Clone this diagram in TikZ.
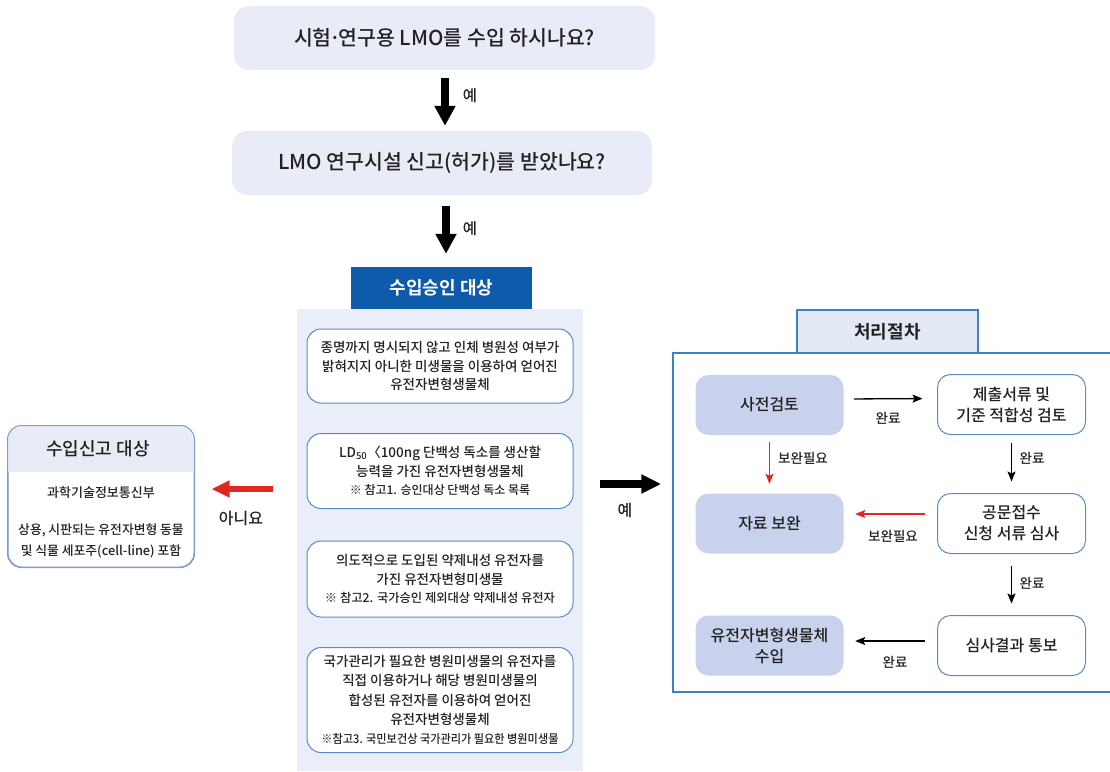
\documentclass[tikz,border=0pt]{standalone}
\usepackage{fontspec}
\setmainfont{Noto Sans CJK KR}[UprightFont={* Medium}, BoldFont={* Bold}]
\usetikzlibrary{arrows.meta}
\definecolor{qfill}{HTML}{E9ECF7}
\definecolor{hblue}{HTML}{0D5BAA}
\definecolor{panelbg}{HTML}{E9EEF8}
\definecolor{sbord}{HTML}{5B8BC6}
\definecolor{lav}{HTML}{C8D2EC}
\definecolor{pblue}{HTML}{3F7FC4}
\definecolor{hlight}{HTML}{E4E9F6}
\definecolor{lbord}{HTML}{7D9DCB}
\definecolor{arrred}{HTML}{E0281E}
\definecolor{txt}{HTML}{222222}
\newcommand\myfs[2]{\fontsize{#1}{#2}\selectfont}
\begin{document}
\begin{tikzpicture}[x=1pt,y=-1pt,
  question/.style={fill=qfill, rounded corners=15pt, inner sep=0pt, font=\myfs{20.5}{24}, text=txt},
  bigarrow/.style={line width=8.5pt, -{Triangle[width=20pt,length=20pt]}},
  redbig/.style={arrred, line width=6.5pt, -{Triangle[width=16pt,length=18pt]}},
  blackbig/.style={line width=8.5pt, -{Triangle[width=18pt,length=20pt]}},
  sub/.style={draw=sbord, line width=1pt, fill=white, rounded corners=14pt, inner sep=0pt, minimum width=266pt, align=center, font=\myfs{13.5}{18.5}, text=txt},
  lavbox/.style={fill=lav, rounded corners=13pt, minimum width=148pt, minimum height=60pt, inner sep=0pt, font=\myfs{16}{21}, align=center, text=txt},
  whbox/.style={draw=sbord, line width=1pt, fill=white, rounded corners=13pt, minimum width=148pt, minimum height=60pt, inner sep=0pt, font=\myfs{16}{21}, align=center, text=txt},
  thinarrow/.style={line width=1.3pt, -{Stealth[length=10pt,width=8pt,inset=2pt]}},
  thinred/.style={thinarrow, arrred},
  lab/.style={font=\myfs{13.5}{16}, text=txt, inner sep=0pt},
  biglab/.style={font=\myfs{15.5}{18}, text=txt, inner sep=0pt}
]
\useasboundingbox (0,0) rectangle (1110,771);

% questions
\node[question, minimum width=421pt, minimum height=64pt] (q1) at (444.5,38) {시험\kern-.12em·\kern-.12em연구용 LMO를 수입 하시나요?};
\node[question, minimum width=420pt, minimum height=64pt] (q2) at (442,163) {LMO 연구시설 신고(허가)를 받았나요?};

% central panel
\node[fill=panelbg, minimum width=286pt, minimum height=462pt, inner sep=0pt] (panel) at (440,540) {};
\node[fill=hblue, minimum width=181pt, minimum height=42pt, inner sep=0pt, text=white, font=\bfseries\myfs{18}{22}] (h1) at (441.5,288) {수입승인 대상};

\draw[bigarrow, shorten <=8pt, shorten >=5pt] (q1.south -| 445,0) -- (q2.north -| 445,0);
\node[biglab] (y1) at (470,96) {예};
\draw[bigarrow, shorten <=11pt, shorten >=13pt] (q2.south -| 446,0) -- (h1.north -| 446,0);
\node[biglab] (y2) at (470,229) {예};

\node[sub, minimum height=74pt] (sa) at (440,366) {종명까지 명시되지 않고 인체 병원성 여부가\\밝혀지지 아니한 미생물을 이용하여 얻어진\\유전자변형생물체};
\node[sub, minimum height=75pt] (sb) at (440,471) {LD\textsubscript{50}〈100ng 단백성 독소를 생산할\\능력을 가진 유전자변형생물체\\{\myfs{12}{18.5}※ 참고1. 승인대상 단백성 독소 목록}};
\node[sub, minimum height=76pt] (sc) at (440,579) {의도적으로 도입된 약제내성 유전자를\\가진 유전자변형미생물\\{\myfs{12.3}{18.5}※ 참고2. 국가승인 제외대상 약제내성 유전자}};
\node[sub, minimum height=105pt, font=\myfs{13.5}{19.3}] (sd) at (440,700) {국가관리가 필요한 병원미생물의 유전자를\\직접 이용하거나 해당 병원미생물의\\합성된 유전자를 이용하여 얻어진\\유전자변형생물체\\{\myfs{12}{19.3}\scalebox{0.93}[1]{※참고3. 국민보건상 국가관리가 필요한 병원미생물}}};

% left box
\node[draw=lbord, line width=1pt, fill=white, rounded corners=14pt, minimum width=186pt, minimum height=141pt, inner sep=0pt] (lb) at (101,496.5) {};
\begin{scope}
\clip[rounded corners=14pt] (lb.south west) rectangle (lb.north east);
\fill[qfill] (lb.north west) rectangle ([yshift=-46pt]lb.north east);
\end{scope}
\draw[lbord, line width=1pt, rounded corners=14pt] (lb.south west) rectangle (lb.north east);
\node[font=\myfs{18}{22}, text=txt, inner sep=0pt] (lbh) at (98,449) {수입신고 대상};
\node[font=\myfs{13}{16}, text=txt, inner sep=0pt] (lb1) at (101,493) {과학기술정보통신부};
\node[font=\myfs{12.8}{20.5}, text=txt, inner sep=0pt, align=center] (lb2) at (101,541) {상용, 시판되는 유전자변형 동물\\및 식물 세포주(cell-line) 포함};

\draw[redbig, shorten <=24pt, shorten >=17pt] (panel.west |- 0,489) -- (lb.east |- 0,489);
\node[font=\myfs{16}{20}, text=txt, inner sep=0pt] (no) at (241,518) {아니요};

% right panel
\node[draw=pblue, line width=1.5pt, minimum width=445pt, minimum height=339pt, inner sep=0pt] (main) at (895.5,522.5) {};
\node[draw=pblue, line width=1.5pt, fill=hlight, minimum width=181pt, minimum height=43pt, inner sep=0pt, font=\bfseries\myfs{18}{22}, text=txt] (ph) at (887.5,331.5) {처리절차};

\draw[blackbig, shorten <=17pt, shorten >=11pt] (panel.east |- 0,484) -- (main.west |- 0,484);
\node[font=\myfs{16}{20}, text=txt, inner sep=0pt] (y3) at (625,510) {예};

\node[lavbox] (p1) at (769.5,405) {사전검토};
\node[whbox] (p2) at (1011.5,404.5) {제출서류 및\\기준 적합성 검토};
\node[lavbox] (p3) at (769.5,523.5) {자료 보완};
\node[whbox] (p4) at (1011.5,523.5) {공문접수\\신청 서류 심사};
\node[lavbox] (p5) at (769.5,645.5) {유전자변형생물체\\수입};
\node[whbox] (p6) at (1011.5,645.5) {심사결과 통보};

\draw[thinarrow, shorten <=10.5pt, shorten >=14.5pt] ([yshift=6pt]p1.east) -- ([yshift=6pt]p2.west);
\node[lab] (l1) at (888,418) {완료};
\draw[thinred, shorten <=7pt, shorten >=9.5pt] (p1.south) -- (p3.north);
\node[lab] (l2) at (803,458) {보완필요};
\draw[thinarrow, shorten <=7.5pt, shorten >=11.5pt] (p2.south) -- (p4.north);
\node[lab] (l3) at (1032,458) {완료};
\draw[thinred, shorten <=12.5pt, shorten >=11.5pt] ([yshift=9.5pt]p4.west) -- ([yshift=9.5pt]p3.east);
\node[lab] (l4) at (893,536) {보완필요};
\draw[thinarrow, shorten <=11.5pt, shorten >=11.5pt] (p4.south) -- (p6.north);
\node[lab] (l5) at (1032,583) {완료};
\draw[thinarrow, shorten <=12.5pt, shorten >=11.5pt] ([yshift=4.5pt]p6.west) -- ([yshift=4.5pt]p5.east);
\node[lab] (l6) at (895,662) {완료};
\end{tikzpicture}
\end{document}
